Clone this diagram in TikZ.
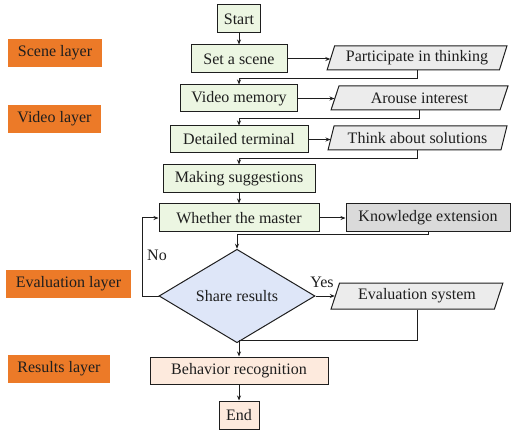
\documentclass[tikz,border=0pt]{standalone}
\usepackage{fontspec}
\setmainfont{Liberation Serif}
\usetikzlibrary{shapes.geometric,arrows.meta,calc}
\definecolor{lgreen}{RGB}{236,246,226}
\definecolor{lgray}{RGB}{236,236,236}
\definecolor{mgray}{RGB}{218,218,218}
\definecolor{lblue}{RGB}{222,230,248}
\definecolor{peach}{RGB}{253,234,221}
\definecolor{layerorange}{RGB}{236,122,40}
\definecolor{ink}{RGB}{30,30,30}
\begin{document}
\begin{tikzpicture}[x=1pt,y=-1pt,
  every node/.style={font=\fontsize{16}{19}\selectfont, text=ink},
  base/.style={draw=ink, line width=1pt, inner sep=0pt},
  gbox/.style={base, rectangle, fill=lgreen},
  pbox/.style={base, rectangle, fill=peach},
  para/.style={base, trapezium, trapezium left angle=66, trapezium right angle=114,
    trapezium stretches=true, fill=lgray},
  kbox/.style={base, rectangle, fill=mgray},
  dec/.style={base, diamond, fill=lblue},
  layer/.style={rectangle, fill=layerorange, inner sep=0pt, minimum height=28pt},
  arr/.style={draw=ink, line width=1pt, -{Stealth[length=5pt,width=4pt]}},
  lbl/.style={inner sep=0pt}
]
\useasboundingbox (0,0) rectangle (511,430);

% layer labels
\node[layer, minimum width=94pt] (L1) at (55,53) {Scene layer};
\node[layer, minimum width=93pt] (L2) at (54.5,119) {Video layer};
\node[layer, minimum width=125pt] (L3) at (68.5,284) {Evaluation layer};
\node[layer, minimum width=102pt] (L4) at (59,369) {Results layer};

% main column
\node[gbox, minimum width=43pt, minimum height=28pt] (start) at (239,19) {Start};
\node[gbox, minimum width=96pt, minimum height=28pt] (scene) at (239,59) {Set a scene};
\node[gbox, minimum width=117pt, minimum height=27pt] (vm) at (239,98.5) {Video memory};
\node[gbox, minimum width=138pt, minimum height=27pt] (dt) at (239,139.5) {Detailed terminal};
\node[gbox, minimum width=152pt, minimum height=28pt] (ms) at (239,179) {Making suggestions};
\node[gbox, minimum width=160pt, minimum height=28pt] (wm) at (239,218) {Whether the master};
\node[dec, minimum width=156pt, minimum height=76pt] (dia) at (237,296) {Share results};
\node[pbox, minimum width=178pt, minimum height=27pt] (br) at (239,370.5) {Behavior recognition};
\node[pbox, minimum width=40pt, minimum height=28pt] (end) at (239,415) {End};

% right column
\node[para, minimum width=180pt, minimum height=24pt] (p1) at (417,58) {Participate in thinking};
\node[para, minimum width=177pt, minimum height=24pt] (p2) at (419.5,98) {Arouse interest};
\node[para, minimum width=179pt, minimum height=24pt] (p3) at (417.5,138) {Think about solutions};
\node[kbox, minimum width=164pt, minimum height=28pt] (ke) at (428,218) {Knowledge extension};
\node[para, minimum width=172pt, minimum height=26pt] (es) at (417,296) {Evaluation system};

% connectors
\draw[arr] (start) -- (scene);
\draw[arr] (scene.east) -- (scene.east -| p1.west);
\draw[arr] (p1.south) |- ($(vm.north)+(0,-6)$) -- (vm.north);
\draw[arr] (vm.east) -- (vm.east -| p2.west);
\draw[arr] (p2.south) |- ($(dt.north)+(0,-7)$) -- (dt.north);
\draw[arr] (dt.east) -- (dt.east -| p3.west);
\draw[arr] (p3.south) |- ($(ms.north)+(0,-6)$) -- (ms.north);
\draw[arr] (ms) -- (wm);
\draw[arr] (wm) -- (ke);
\draw[arr] (ke.south) |- ($(dia.north)+(0,-14)$) -- (dia.north);
\draw[arr] (dia.east) -- (dia.east -| es.west);
\draw[arr] (dia.west) -- ++(-16,0) |- (wm.west);
\draw[arr] (es.south) |- ($(br.north)+(0,-16)$) -- (br.north);
\draw[arr] (br) -- (end);

% branch labels
\node[lbl] (no) at (157,255) {No};
\node[lbl] (yes) at (322,282) {Yes};
\end{tikzpicture}
\end{document}
